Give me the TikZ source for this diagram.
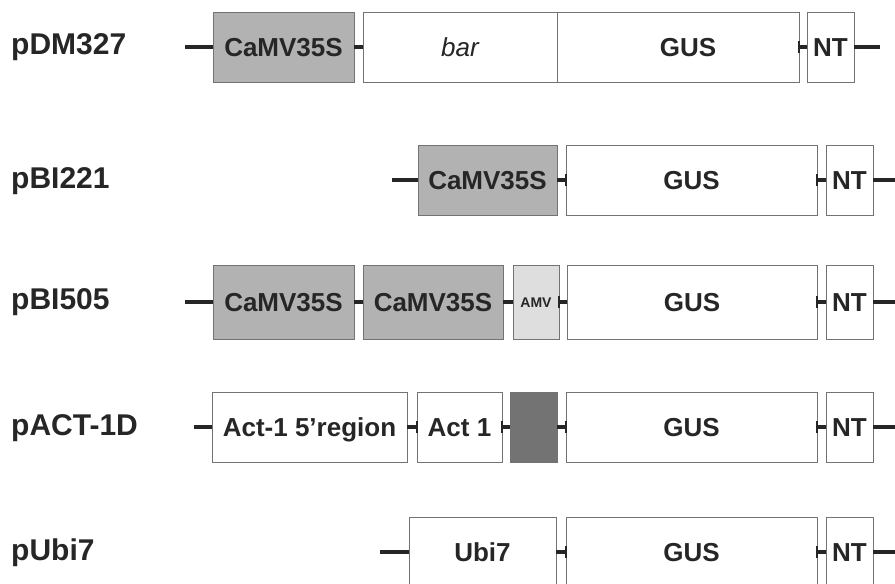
\documentclass[tikz,border=0pt]{standalone}
\usepackage{fontspec}
\setmainfont{Liberation Sans}
\begin{document}
\begin{tikzpicture}[x=1pt,y=-1pt,
  box/.style={draw=black!55,line width=0.9pt,inner sep=0pt,minimum height=70pt,
    text height=18pt,text depth=0pt,
    font=\fontsize{26}{26}\selectfont\bfseries,text=black!85},
  plain/.style={box,fill=white},
  promo/.style={box,fill=black!30},
  darkbox/.style={box,fill=black!55},
  amvbox/.style={box,fill=black!13,text height=10pt,font=\fontsize{14}{14}\selectfont\bfseries},
  link/.style={line width=3.2pt,black!85},
  tick/.style={line width=2pt,black!85},
  lab/.style={anchor=west,font=\fontsize{30}{30}\selectfont\bfseries,text=black!85,inner sep=0pt,
    text height=21pt,text depth=0pt}]
\useasboundingbox (0,0) rectangle (895,584);
\fill[white] (0,0) rectangle (895,584);

% ---- row 1: pDM327
\node[lab] (l1) at (11,44) {pDM327};
\node[promo,minimum width=141pt] (r1a) at (283.5,47) {CaMV35S};
\node[plain,minimum width=194pt] (r1b) at (460,47) {\mdseries\itshape bar};
\node[plain,minimum width=242pt] (r1c) at (678,47) {\hspace*{20pt}GUS};
\node[plain,minimum width=47pt] (r1d) at (830.5,47) {NT};
\coordinate (r1s) at (185,47);
\coordinate (r1e) at (880,47);
\draw[link] (r1s) -- (r1a.west);
\draw[link] (r1a.east) -- (r1b.west);
\draw[link] (r1c.east) -- (r1d.west);
\draw[link] (r1d.east) -- (r1e);
\draw[tick] ([yshift=-6pt]r1c.east) -- ([yshift=6pt]r1c.east);

% ---- row 2: pBI221
\node[lab] (l2) at (11,178) {pBI221};
\node[promo,minimum width=139pt] (r2a) at (487.5,180) {CaMV35S};
\node[plain,minimum width=251pt] (r2b) at (691.5,180) {GUS};
\node[plain,minimum width=47pt] (r2c) at (849.5,180) {NT};
\coordinate (r2s) at (392,180);
\coordinate (r2e) at (895,180);
\draw[link] (r2s) -- (r2a.west);
\draw[link] (r2a.east) -- (r2b.west);
\draw[link] (r2b.east) -- (r2c.west);
\draw[link] (r2c.east) -- (r2e);
\draw[tick] ([yshift=-6pt]r2b.west) -- ([yshift=6pt]r2b.west);
\draw[tick] ([yshift=-6pt]r2b.east) -- ([yshift=6pt]r2b.east);

% ---- row 3: pBI505
\node[lab] (l3) at (11,299) {pBI505};
\node[promo,minimum width=141pt,minimum height=74pt] (r3a) at (283.5,302) {CaMV35S};
\node[promo,minimum width=140pt,minimum height=74pt] (r3b) at (433,302) {CaMV35S};
\node[amvbox,minimum width=46pt,minimum height=74pt] (r3c) at (536,302) {AMV};
\node[plain,minimum width=250pt,minimum height=74pt] (r3d) at (692,302) {GUS};
\node[plain,minimum width=47pt,minimum height=74pt] (r3e) at (849.5,302) {NT};
\coordinate (r3s) at (185,302);
\coordinate (r3f) at (895,302);
\draw[link] (r3s) -- (r3a.west);
\draw[link] (r3a.east) -- (r3b.west);
\draw[link] (r3b.east) -- (r3c.west);
\draw[link] (r3c.east) -- (r3d.west);
\draw[link] (r3d.east) -- (r3e.west);
\draw[link] (r3e.east) -- (r3f);
\draw[tick] ([yshift=-6pt]r3c.east) -- ([yshift=6pt]r3c.east);
\draw[tick] ([yshift=-6pt]r3d.east) -- ([yshift=6pt]r3d.east);

% ---- row 4: pACT-1D
\node[lab] (l4) at (11,425) {pACT-1D};
\node[plain,minimum width=195pt] (r4a) at (309.5,427) {Act-1 5’region};
\node[plain,minimum width=85pt] (r4b) at (459.5,427) {Act 1};
\node[darkbox,minimum width=47pt] (r4c) at (533.5,427) {};
\node[plain,minimum width=251pt] (r4d) at (691.5,427) {GUS};
\node[plain,minimum width=47pt] (r4e) at (849.5,427) {NT};
\coordinate (r4s) at (194,427);
\coordinate (r4f) at (895,427);
\draw[link] (r4s) -- (r4a.west);
\draw[link] (r4a.east) -- (r4b.west);
\draw[link] (r4b.east) -- (r4c.west);
\draw[link] (r4c.east) -- (r4d.west);
\draw[link] (r4d.east) -- (r4e.west);
\draw[link] (r4e.east) -- (r4f);
\draw[tick] ([yshift=-6pt]r4b.west) -- ([yshift=6pt]r4b.west);
\draw[tick] ([yshift=-6pt]r4b.east) -- ([yshift=6pt]r4b.east);
\draw[tick] ([yshift=-6pt]r4d.west) -- ([yshift=6pt]r4d.west);
\draw[tick] ([yshift=-6pt]r4d.east) -- ([yshift=6pt]r4d.east);

% ---- row 5: pUbi7
\node[lab] (l5) at (11,550) {pUbi7};
\node[plain,minimum width=147pt] (r5a) at (482.5,552) {Ubi7};
\node[plain,minimum width=251pt] (r5b) at (691.5,552) {GUS};
\node[plain,minimum width=47pt] (r5c) at (849.5,552) {NT};
\coordinate (r5s) at (380,552);
\coordinate (r5e) at (895,552);
\draw[link] (r5s) -- (r5a.west);
\draw[link] (r5a.east) -- (r5b.west);
\draw[link] (r5b.east) -- (r5c.west);
\draw[link] (r5c.east) -- (r5e);
\draw[tick] ([yshift=-6pt]r5b.west) -- ([yshift=6pt]r5b.west);
\draw[tick] ([yshift=-6pt]r5b.east) -- ([yshift=6pt]r5b.east);
\end{tikzpicture}
\end{document}
